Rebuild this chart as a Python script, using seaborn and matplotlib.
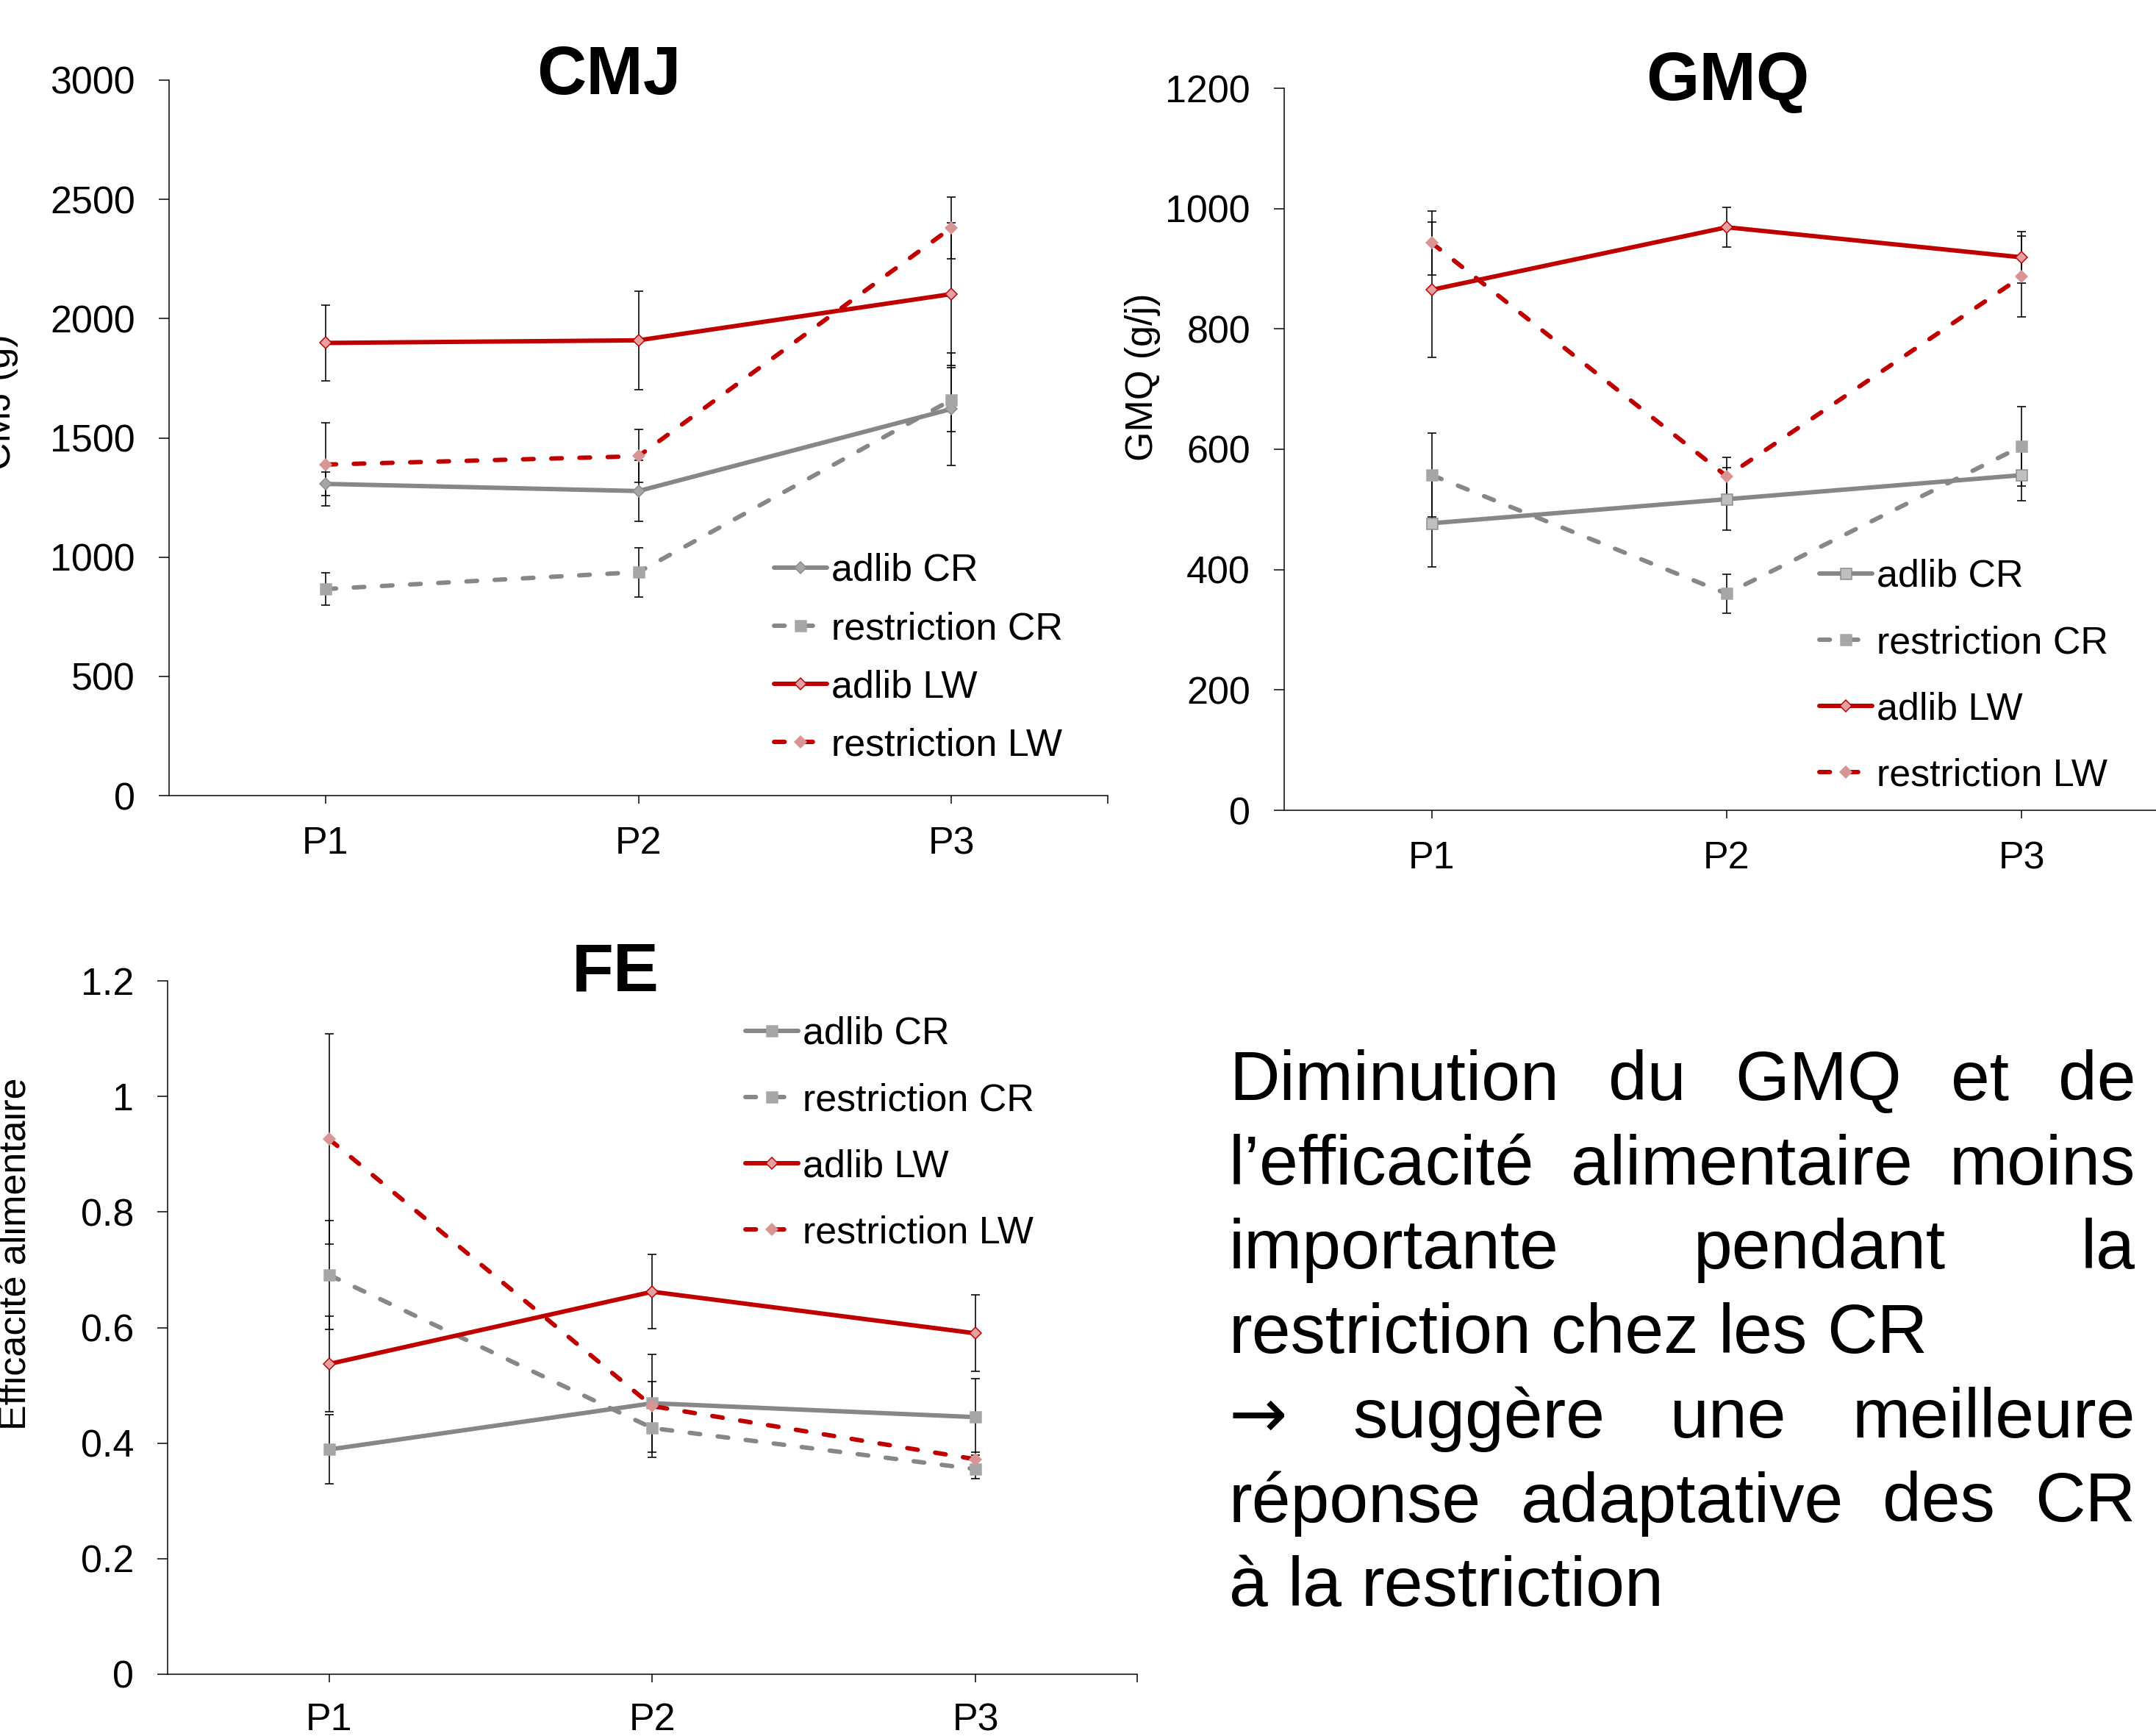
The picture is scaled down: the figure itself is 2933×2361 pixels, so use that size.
import numpy as np
import matplotlib
matplotlib.use("Agg")
import matplotlib.pyplot as plt
import seaborn as sns

W, H = 2933, 2361
DPI = 72

periods = ["P1", "P2", "P3"]
series_names = ["adlib CR", "restriction CR", "adlib LW", "restriction LW"]

# ---------------------------------------------------------
# CMJ (g)
# ---------------------------------------------------------
cmj_adlib_cr = [1307, 1277, 1621]
cmj_restr_cr = [866, 937, 1659]
cmj_adlib_lw = [1898, 1909, 2103]
cmj_restr_lw = [1388, 1423, 2381]
cmj_err_adlib_cr = [50, 128, 236]
cmj_err_restr_cr = [68, 103, 134]
cmj_err_adlib_lw = [159, 206, 300]
cmj_err_restr_lw = [174, 111, 130]
cmj_ticks = [0, 500, 1000, 1500, 2000, 2500, 3000]
cmj_ticklabels = ["0", "500", "1000", "1500", "2000", "2500", "3000"]

# ---------------------------------------------------------
# GMQ (g/j)
# ---------------------------------------------------------
gmq_adlib_cr = [477, 517, 557]
gmq_restr_cr = [557, 360, 605]
gmq_adlib_lw = [865, 969, 919]
gmq_restr_lw = [943, 555, 887]
gmq_err_adlib_cr = [73, 52, 43]
gmq_err_restr_cr = [70, 32, 66]
gmq_err_adlib_lw = [112, 33, 43]
gmq_err_restr_lw = [53, 32, 67]
gmq_ticks = [0, 200, 400, 600, 800, 1000, 1200]
gmq_ticklabels = ["0", "200", "400", "600", "800", "1000", "1200"]

# ---------------------------------------------------------
# FE (efficacite alimentaire)
# ---------------------------------------------------------
fe_adlib_cr = [0.389, 0.469, 0.445]
fe_restr_cr = [0.691, 0.426, 0.355]
fe_adlib_lw = [0.537, 0.662, 0.590]
fe_restr_lw = [0.926, 0.464, 0.372]
fe_err_adlib_cr = [0.060, 0.085, 0.066]
fe_err_restr_cr = [0.094, 0.050, 0.016]
fe_err_adlib_lw = [0.083, 0.064, 0.066]
fe_err_restr_lw = [0.182, 0.043, 0.012]
fe_ticks = [0, 0.2, 0.4, 0.6, 0.8, 1.0, 1.2]
fe_ticklabels = ["0", "0.2", "0.4", "0.6", "0.8", "1", "1.2"]

body_lines = [
    "Diminution du GMQ et de",
    "l\u2019efficacit\u00e9 alimentaire moins",
    "importante pendant la",
    "restriction chez les CR",
    "\u2192 sugg\u00e8re une meilleure",
    "r\u00e9ponse adaptative des CR",
    "\u00e0 la restriction",
]
body_justify = [True, True, True, False, True, True, False]

GRAY = "#878787"
RED = "#C00000"
DASH = (0, (2.4, 4.0))

sns.set_theme(style="ticks")
plt.rcParams["font.family"] = ["Liberation Sans", "DejaVu Sans"]
plt.rcParams["axes.edgecolor"] = "black"
plt.rcParams["axes.linewidth"] = 1.5
plt.rcParams["text.color"] = "black"
plt.rcParams["axes.labelcolor"] = "black"
plt.rcParams["xtick.color"] = "black"
plt.rcParams["ytick.color"] = "black"

fig = plt.figure(figsize=(W / DPI, H / DPI), dpi=DPI)
fig.patch.set_facecolor("white")


def px_axes(left, top, right, bottom):
    return fig.add_axes([left / W, 1 - bottom / H, (right - left) / W, (bottom - top) / H])


def draw_panel(ax, values, errors, markers, ymax, ticks, ticklabels, xpad):
    x = np.arange(len(periods))
    for vals, errs, name, (mk, ms, fc, ec, color, dashed) in zip(values, errors, series_names, markers):
        ax.errorbar(x, vals, yerr=errs, fmt="none", ecolor="black", elinewidth=1.6,
                    capsize=6, capthick=1.6, zorder=2, label="_nolegend_")
        kw = dict(linestyle=DASH, dash_capstyle="round") if dashed else dict(solid_capstyle="round")
        sns.lineplot(x=x, y=vals, ax=ax, color=color, linewidth=6, marker=mk, markersize=ms,
                     markerfacecolor=fc, markeredgecolor=ec, markeredgewidth=1.5,
                     label=name, zorder=3, legend=False, **kw)
    ax.set_xlim(-0.5, len(periods) - 0.5)
    ax.set_ylim(0, ymax)
    ax.set_xticks(x, labels=periods)
    ax.set_xticks([len(periods) - 0.5], minor=True)
    ax.set_yticks(ticks, labels=ticklabels)
    ax.tick_params(axis="y", length=14, width=1.5, pad=32, labelsize=52, colors="black")
    ax.tick_params(axis="x", which="both", length=11, width=1.5, pad=xpad, labelsize=52, colors="black")
    ax.set_xlabel("")
    ax.set_ylabel("")
    sns.despine(ax=ax)


cr_adlib_d = ("D", 11, "#A6A6A6", "#8C8C8C", GRAY, False)
cr_adlib_s = ("s", 15, "#BFBFBF", "#8C8C8C", GRAY, False)
cr_adlib_s2 = ("s", 15, "#A6A6A6", "#A6A6A6", GRAY, False)
cr_restr = ("s", 15, "#A6A6A6", "#A6A6A6", GRAY, True)
lw_adlib = ("D", 11, "#E6A0A0", RED, RED, False)
lw_restr = ("D", 11, "#D99594", "#D99594", RED, True)


def add_legend(ax, x_px, top_px, spacing):
    handles, labels = ax.get_legend_handles_labels()
    ax.legend(handles, labels, loc="upper left", bbox_to_anchor=(x_px / W, 1 - top_px / H),
              bbox_transform=fig.transFigure, frameon=False, fontsize=52,
              handlelength=1.38, handletextpad=0.12, labelspacing=spacing,
              borderpad=0, borderaxespad=0, numpoints=1)


# CMJ
ax1 = px_axes(230, 109, 1507, 1082)
draw_panel(ax1, [cmj_adlib_cr, cmj_restr_cr, cmj_adlib_lw, cmj_restr_lw],
           [cmj_err_adlib_cr, cmj_err_restr_cr, cmj_err_adlib_lw, cmj_err_restr_lw],
           [cr_adlib_d, cr_restr, lw_adlib, lw_restr], 3000, cmj_ticks, cmj_ticklabels, 30)
add_legend(ax1, 1053, 752, 0.58)

# GMQ
ax2 = px_axes(1747, 120, 2951, 1102)
draw_panel(ax2, [gmq_adlib_cr, gmq_restr_cr, gmq_adlib_lw, gmq_restr_lw],
           [gmq_err_adlib_cr, gmq_err_restr_cr, gmq_err_adlib_lw, gmq_err_restr_lw],
           [cr_adlib_s, cr_restr, lw_adlib, lw_restr], 1200, gmq_ticks, gmq_ticklabels, 30)
add_legend(ax2, 2475, 760, 0.79)

# FE
ax3 = px_axes(228, 1334, 1547, 2277)
draw_panel(ax3, [fe_adlib_cr, fe_restr_cr, fe_adlib_lw, fe_restr_lw],
           [fe_err_adlib_cr, fe_err_restr_cr, fe_err_adlib_lw, fe_err_restr_lw],
           [cr_adlib_s2, cr_restr, lw_adlib, lw_restr], 1.2, fe_ticks, fe_ticklabels, 27)
add_legend(ax3, 1014, 1382, 0.79)

# titles
fig.text(828 / W, 1 - 128 / H, "CMJ", fontsize=93, fontweight="bold", ha="center", va="baseline")
fig.text(2350 / W, 1 - 136 / H, "GMQ", fontsize=93, fontweight="bold", ha="center", va="baseline")
fig.text(837 / W, 1 - 1347 / H, "FE", fontsize=93, fontweight="bold", ha="center", va="baseline")

# y labels
for xb, yc, txt in [(14, 547, "CMJ (g)"), (1568, 513, "GMQ (g/j)"), (36, 1705, "Efficacit\u00e9 alimentaire")]:
    fig.text(xb / W, 1 - yc / H, txt, fontsize=52, rotation=90, rotation_mode="anchor",
             ha="center", va="baseline")

# justified text block
left_px, right_px = 1672, 2905
fig.canvas.draw()
renderer = fig.canvas.get_renderer()
space_w = 0.278 * 95
for i, (line, just) in enumerate(zip(body_lines, body_justify)):
    words = line.split(" ")
    y = 1 - (1496 + i * 114.7) / H
    texts = []
    for w in words:
        fam = ["DejaVu Sans"] if w == "\u2192" else ["Liberation Sans", "DejaVu Sans"]
        texts.append(fig.text(0, y, w, fontsize=95, ha="left", va="baseline", family=fam))
    widths = [t.get_window_extent(renderer).width for t in texts]
    if just and len(words) > 1:
        gap = (right_px - left_px - sum(widths)) / (len(words) - 1)
    else:
        gap = space_w
    xpos = left_px
    for t, wd in zip(texts, widths):
        t.set_x(xpos / W)
        xpos += wd + gap

fig.savefig("out.png", dpi=DPI, facecolor="white")
